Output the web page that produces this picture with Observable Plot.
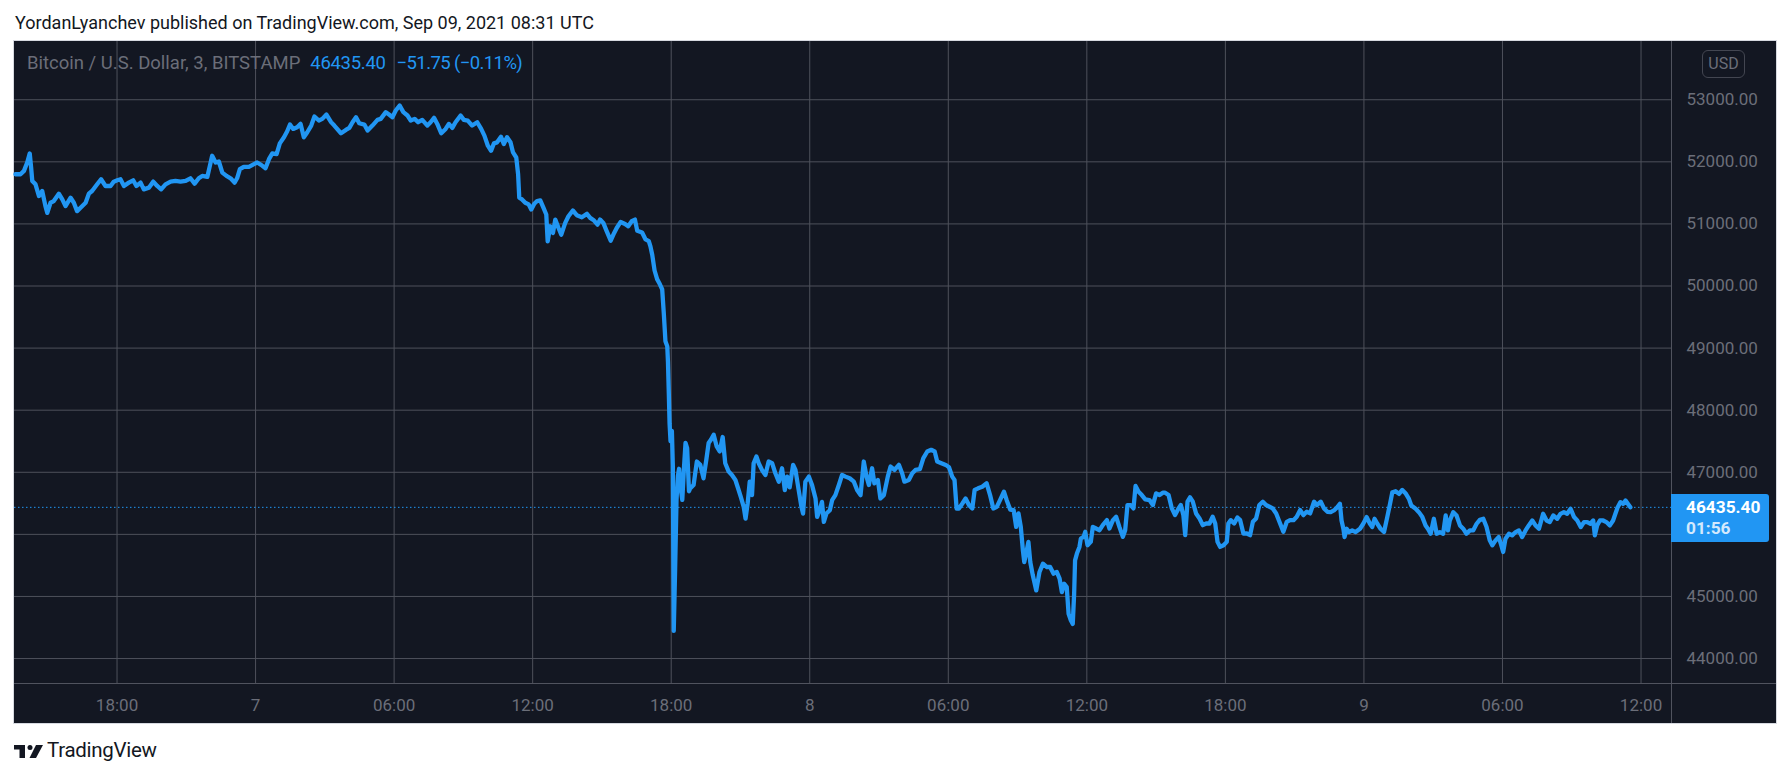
<!DOCTYPE html>
<html>
<head>
<meta charset="utf-8">
<script src="https://cdn.jsdelivr.net/npm/d3@7"></script>
<script src="https://cdn.jsdelivr.net/npm/@observablehq/plot@0.6"></script>
<style>
  html, body { margin: 0; padding: 0; background: #ffffff; }
  body { width: 1791px; height: 778px; position: relative; overflow: hidden; font-family: Roboto, "Open Sans", sans-serif; }
  #title { position: absolute; left: 15px; top: 12px; font-size: 18px; color: #131722; white-space: nowrap; line-height: normal; }
  #chart { position: absolute; left: 14px; top: 41px; width: 1762px; height: 682px; background: #131722; box-shadow: 0 0 0 1px #d6d9e0; }
  #legend { position: absolute; left: 13px; top: 11px; font-size: 18.5px; white-space: nowrap; line-height: normal; }
  #legend .sym { color: #6b6e79; }
  #legend .val { color: #2196f3; margin-left: 10px; letter-spacing: -0.3px; }
  #legend .chg { color: #2196f3; margin-left: 11px; letter-spacing: -0.6px; }
  #usd { position: absolute; left: 1688px; top: 9px; width: 41px; height: 26px; border: 1px solid #434651; border-radius: 6px; color: #6b6e79; font-size: 16px; text-align: center; line-height: 26px; }
  #pricebox { position: absolute; left: 1657px; width: 98px; height: 48px; background: #2196f3; border-radius: 0 3px 3px 0; color: #ffffff; }
  #pricebox .p { position: absolute; left: 15px; top: 3px; font-size: 17.3px; font-weight: bold; }
  #pricebox .c { position: absolute; left: 15px; top: 24px; font-size: 17.3px; font-weight: bold; color: #d3e9fd; }
  #logo { position: absolute; left: 14px; top: 741px; height: 22px; }
  #brand { position: absolute; left: 47px; top: 738px; font-size: 20.5px; color: #131722; white-space: nowrap; line-height: normal; letter-spacing: -0.3px; }
</style>
</head>
<body>
<div id="title"></div>
<div id="chart"></div>
<svg id="logo" width="32" height="22" viewBox="0 0 32 22">
  <rect x="0" y="4" width="11" height="4.5" fill="#131722"/>
  <rect x="5.5" y="4" width="5.5" height="13" fill="#131722"/>
  <circle cx="16" cy="6.5" r="2.5" fill="#131722"/>
  <polygon points="22,4 29,4 22,17 15.5,17" fill="#131722"/>
</svg>
<div id="brand">TradingView</div>
<script>
// ---- text content ----
const titleText = "YordanLyanchev published on TradingView.com, Sep 09, 2021 08:31 UTC";
const symbolText = "Bitcoin / U.S. Dollar, 3, BITSTAMP";
const lastPriceText = "46435.40";
const changeText = "\u221251.75 (\u22120.11%)";
const countdownText = "01:56";
const currencyText = "USD";

// ---- scales: hours since 2021-09-06 00:00 ----
const xDomainHours = [13.56, 85.32];
const yDomain = [43598, 53938];
const yTicks = [44000, 45000, 46000, 47000, 48000, 49000, 50000, 51000, 52000, 53000];
// 46000.00 sits under the last-price tag in the reference, so it has no visible label
const yLabelTicks = [44000, 45000, 47000, 48000, 49000, 50000, 51000, 52000, 53000];
const xTickHours = [18, 24, 30, 36, 42, 48, 54, 60, 66, 72, 78, 84];
const xTickLabels = ["18:00", "7", "06:00", "12:00", "18:00", "8", "06:00", "12:00", "18:00", "9", "06:00", "12:00"];
const lastPrice = 46435.40;

// ---- series: time (hours since Sep 6 00:00) and close price ----
const hours = [
13.60,13.82,13.97,14.11,14.22,14.28,14.33,14.47,14.62,14.76,14.90,14.98,15.12,15.26,15.48,15.63,15.77,15.99,16.13,16.27,
16.42,16.64,16.78,16.92,17.14,17.31,17.50,17.72,17.86,18.01,18.15,18.30,18.51,18.70,18.84,19.02,19.16,19.38,19.57,19.74,
19.91,20.10,20.32,20.53,20.75,20.97,21.18,21.36,21.54,21.69,21.91,22.02,22.12,22.27,22.41,22.56,22.74,22.92,23.09,23.20,
23.32,23.49,23.71,23.93,24.07,24.24,24.43,24.58,24.72,24.91,25.05,25.23,25.37,25.49,25.63,25.80,25.95,26.09,26.24,26.41,
26.55,26.74,26.89,27.07,27.27,27.41,27.70,27.91,28.06,28.20,28.35,28.49,28.71,28.85,29.06,29.28,29.42,29.64,29.78,29.93,
30.07,30.24,30.40,30.58,30.72,30.89,31.04,31.22,31.44,31.58,31.73,31.87,32.04,32.23,32.37,32.52,32.66,32.88,33.02,33.19,
33.38,33.60,33.77,33.91,34.06,34.20,34.32,34.46,34.63,34.75,34.89,35.04,35.15,35.29,35.37,35.42,35.54,35.68,35.83,35.94,
36.07,36.19,36.33,36.47,36.59,36.65,36.76,36.88,36.98,37.12,37.24,37.41,37.55,37.74,37.91,38.13,38.35,38.49,38.66,38.81,
38.92,39.06,39.21,39.38,39.53,39.64,39.81,40.00,40.14,40.29,40.43,40.53,40.74,40.89,41.03,41.10,41.18,41.28,41.39,41.51,
41.61,41.68,41.75,41.83,41.86,41.90,41.93,41.97,42.03,42.07,42.11,42.17,42.23,42.29,42.34,42.40,42.48,42.55,42.62,42.69,
42.77,42.82,42.97,43.11,43.26,43.40,43.52,43.62,43.72,43.84,43.97,44.10,44.23,44.34,44.49,44.63,44.78,44.92,45.02,45.14,
45.22,45.31,45.40,45.50,45.57,45.69,45.79,45.93,46.08,46.22,46.37,46.51,46.66,46.80,46.92,47.02,47.13,47.28,47.38,47.52,
47.64,47.71,47.81,47.96,48.10,48.25,48.32,48.43,48.53,48.61,48.72,48.87,48.97,49.11,49.26,49.40,49.55,49.73,49.91,50.05,
50.20,50.34,50.46,50.56,50.70,50.80,50.95,51.06,51.21,51.38,51.50,51.67,51.86,52.00,52.10,52.29,52.44,52.58,52.77,52.92,
53.09,53.26,53.41,53.52,53.70,53.89,54.03,54.17,54.27,54.36,54.46,54.61,54.75,54.90,55.04,55.14,55.29,55.47,55.66,55.81,
55.95,56.10,56.24,56.41,56.53,56.68,56.83,56.94,57.04,57.14,57.23,57.29,57.37,57.47,57.55,57.66,57.81,57.95,58.10,58.27,
58.41,58.56,58.70,58.82,58.92,59.02,59.13,59.21,59.31,59.39,59.45,59.49,59.57,59.68,59.74,59.86,59.93,60.03,60.17,60.26,
60.40,60.55,60.69,60.87,60.98,61.13,61.27,61.41,61.56,61.66,61.76,61.90,62.02,62.11,62.24,62.38,62.53,62.71,62.86,63.00,
63.15,63.29,63.39,63.54,63.68,63.82,63.97,64.07,64.18,64.26,64.36,64.47,64.59,64.73,64.88,65.02,65.17,65.31,65.45,65.56,
65.66,65.77,65.92,66.06,66.13,66.23,66.38,66.52,66.64,66.78,66.93,67.07,67.19,67.33,67.47,67.62,67.76,67.91,68.05,68.20,
68.34,68.51,68.66,68.80,68.95,69.09,69.24,69.38,69.52,69.67,69.84,69.96,70.13,70.27,70.42,70.56,70.70,70.85,70.96,71.03,
71.11,71.16,71.25,71.35,71.49,71.64,71.83,71.97,72.12,72.26,72.36,72.46,72.58,72.72,72.87,73.01,73.13,73.23,73.37,73.52,
73.66,73.80,73.95,74.05,74.24,74.38,74.53,74.67,74.77,74.89,75.03,75.15,75.29,75.43,75.54,75.64,75.72,75.87,76.01,76.16,
76.30,76.44,76.59,76.73,76.88,77.02,77.17,77.31,77.45,77.56,77.70,77.84,77.95,78.03,78.13,78.28,78.42,78.57,78.71,78.85,
79.00,79.14,79.29,79.43,79.58,79.76,79.91,80.05,80.20,80.37,80.51,80.66,80.80,80.95,81.10,81.24,81.39,81.53,81.67,81.81,
81.93,82.00,82.10,82.22,82.36,82.50,82.65,82.79,82.89,82.99,83.11,83.23,83.33,83.43,83.54
];
const prices = [
51800,51800,51854,51989,52135,51908,51692,51638,51449,51530,51287,51178,51341,51368,51487,51395,51287,51422,51341,51206,
51260,51341,51487,51530,51638,51719,51611,51611,51681,51703,51719,51611,51665,51703,51611,51665,51557,51584,51681,51611,
51557,51638,51681,51692,51681,51692,51735,51649,51735,51773,51757,51935,52097,51989,52005,51827,51773,51735,51665,51735,
51881,51919,51919,51962,51989,51951,51897,52043,52135,52124,52297,52395,52492,52600,52530,52557,52611,52395,52476,52584,
52730,52665,52692,52762,52640,52584,52460,52514,52546,52638,52719,52622,52600,52503,52584,52676,52692,52800,52762,52719,
52827,52908,52800,52746,52665,52692,52638,52676,52584,52638,52708,52611,52460,52530,52611,52546,52638,52746,52676,52665,
52584,52638,52530,52422,52260,52178,52297,52314,52405,52287,52395,52314,52151,52070,51800,51422,51395,51341,51314,51233,
51325,51368,51379,51260,51152,50719,50962,50854,51070,50935,50827,51016,51124,51216,51141,51108,51162,51097,51054,50989,
51070,51016,50881,50730,50854,50935,51032,51000,50962,51043,51070,50889,50861,50750,50722,50639,50500,50250,50111,50028,
49944,49556,49111,49028,48778,48222,47778,47500,47667,47111,44444,45444,46556,46944,47056,46778,46556,47056,47472,47389,
46694,46741,46795,47173,47119,46903,47200,47470,47524,47605,47416,47335,47568,47146,47011,46957,46876,46714,46595,46443,
46254,46497,46849,46632,47146,47254,47146,47038,46957,47173,47146,46984,46849,47065,46714,46930,46757,47119,47038,46714,
46443,46335,46849,46930,46795,46578,46281,46389,46524,46200,46335,46389,46551,46632,46795,46957,46930,46903,46849,46714,
46632,47173,46930,46795,47065,46822,46876,46578,46632,46930,47092,47038,47119,46984,46849,46876,46984,47038,47049,47227,
47335,47362,47335,47173,47146,47119,47081,46930,46876,46416,46416,46497,46578,46470,46416,46714,46741,46768,46822,46632,
46416,46443,46551,46687,46551,46400,46391,46121,46337,46121,45744,45555,45690,45879,45555,45340,45097,45394,45528,45474,
45474,45367,45394,45286,45070,45205,45151,44720,44612,44558,45043,45582,45690,45798,45933,45960,46041,45825,45879,46121,
46094,46067,46148,46229,46094,46229,46283,46121,45960,46067,46472,46472,46418,46779,46687,46633,46563,46553,46472,46660,
46633,46671,46671,46633,46418,46310,46418,46472,46310,45987,46526,46596,46526,46337,46256,46148,46175,46175,46283,46175,
45879,45798,45825,45879,46175,46229,46175,46272,46229,46014,46014,45987,46202,46256,46472,46526,46472,46445,46418,46337,
46202,46041,46202,46229,46229,46283,46391,46310,46364,46337,46526,46472,46526,46418,46364,46358,46385,46438,46492,46224,
46091,45957,46091,46037,46064,46037,46091,46171,46278,46171,46118,46251,46171,46091,46037,46278,46492,46679,46695,46652,
46716,46663,46572,46465,46412,46358,46278,46144,46091,46010,46251,46010,46037,46010,46305,46064,46224,46358,46305,46144,
46091,46010,46064,46064,46171,46235,46251,46118,45903,45823,45903,45957,45823,45716,45930,46010,45984,46037,46064,45957,
46064,46144,46224,46144,46091,46331,46224,46198,46305,46251,46331,46358,46331,46412,46278,46224,46118,46198,46198,46171,
46224,45984,46144,46224,46224,46198,46144,46224,46331,46438,46519,46492,46545,46492,46435.40
];

// ---- build ----
const T0 = Date.UTC(2021, 8, 6);
const toDate = h => new Date(T0 + h * 3600e3);
const data = hours.map((h, i) => ({time: toDate(h), price: prices[i]}));
const xTicks = xTickHours.map(toDate);
const labelByTime = new Map(xTicks.map((d, i) => [+d, xTickLabels[i]]));
const xDomain = xDomainHours.map(toDate);

const gridColor = "#4e515b";
const axisText = "#6b6e79";
const blue = "#2196f3";

const chart = Plot.plot({
  width: 1762,
  height: 682,
  marginLeft: 0,
  marginRight: 105,
  marginTop: 0,
  marginBottom: 40,
  style: {background: "#131722", fontFamily: "Roboto, sans-serif", fontSize: "17px", color: axisText, overflow: "visible"},
  x: {type: "utc", domain: xDomain, axis: null},
  y: {domain: yDomain, axis: null},
  marks: [
    Plot.ruleY(yTicks, {stroke: gridColor, strokeWidth: 1}),
    Plot.ruleX(xTicks, {stroke: gridColor, strokeWidth: 1}),
    Plot.ruleY([lastPrice], {stroke: blue, strokeWidth: 1, strokeDasharray: "1.5,2.5"}),
    Plot.lineY(data, {x: "time", y: "price", stroke: blue, strokeWidth: 4.3, strokeLinejoin: "round", strokeLinecap: "round"}),
    Plot.ruleX([xDomain[1]], {stroke: "#50535e", insetBottom: -40}),
    Plot.ruleY([yDomain[0]], {stroke: "#50535e", insetRight: -105}),
    Plot.axisX({ticks: xTicks, tickSize: 0, tickPadding: 15, tickFormat: d => labelByTime.get(+d), fill: axisText, fontSize: 17, label: null}),
    Plot.axisY({anchor: "right", ticks: yLabelTicks, tickSize: 0, tickPadding: 15, tickFormat: d => d.toFixed(2), fill: axisText, fontSize: 17, textAnchor: "start", label: null})
  ]
});

const host = document.getElementById("chart");
host.appendChild(chart);

document.getElementById("title").textContent = titleText;

const legend = document.createElement("div");
legend.id = "legend";
legend.innerHTML = `<span class="sym"></span><span class="val"></span><span class="chg"></span>`;
legend.querySelector(".sym").textContent = symbolText;
legend.querySelector(".val").textContent = lastPriceText;
legend.querySelector(".chg").textContent = changeText;
host.appendChild(legend);

const usd = document.createElement("div");
usd.id = "usd";
usd.textContent = currencyText;
host.appendChild(usd);

const py = chart.scale("y").apply(lastPrice);
const box = document.createElement("div");
box.id = "pricebox";
box.style.top = (py - 13.3) + "px";
box.innerHTML = `<span class="p"></span><span class="c"></span>`;
box.querySelector(".p").textContent = lastPriceText;
box.querySelector(".c").textContent = countdownText;
host.appendChild(box);
</script>
</body>
</html>
